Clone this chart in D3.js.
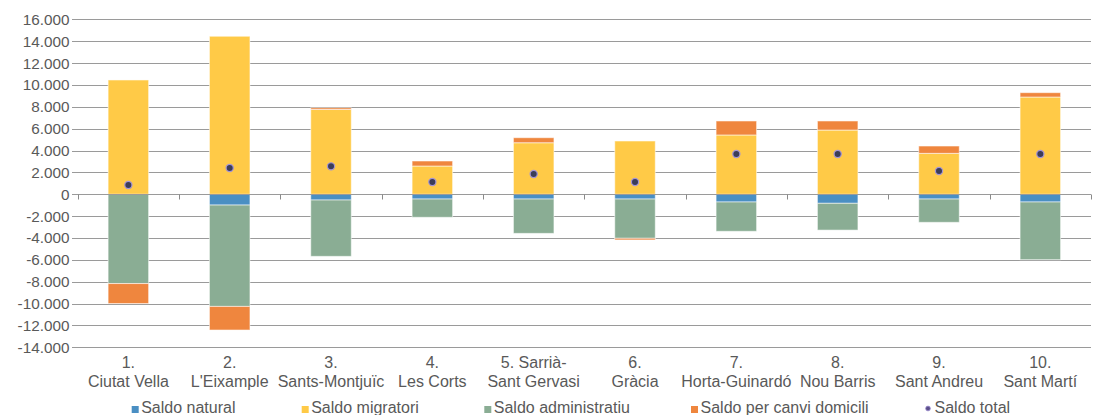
<!DOCTYPE html>
<html><head><meta charset="utf-8">
<script src="https://cdn.jsdelivr.net/npm/d3@7"></script>
<style>html,body{margin:0;padding:0;background:#fff;}svg{display:block;font-family:"Liberation Sans",Arial,sans-serif;}</style>
</head><body>
<svg id="c" width="1106" height="415"></svg>
<script>
const categories = [["1.","Ciutat Vella"],["2.","L'Eixample"],["3.","Sants-Montjuïc"],["4.","Les Corts"],["5. Sarrià-","Sant Gervasi"],["6.","Gràcia"],["7.","Horta-Guinardó"],["8.","Nou Barris"],["9.","Sant Andreu"],["10.","Sant Martí"]];
const saldoNatural = [-20, -990, -530, -440, -440, -440, -710, -830, -440, -710];
const saldoMigratori = [10450, 14450, 7750, 2580, 4710, 4870, 5420, 5870, 3740, 8890];
const saldoAdministratiu = [-8150, -9270, -5150, -1670, -3140, -3590, -2680, -2450, -2130, -5280];
const saldoCanvi = [-1830, -2160, 150, 460, 460, -150, 1280, 830, 670, 400];
const saldoTotal = [840, 2400, 2550, 1120, 1850, 1120, 3680, 3680, 2120, 3680];
const seriesNames = ["Saldo natural","Saldo migratori","Saldo administratiu","Saldo per canvi domicili","Saldo total"];
const yTicks = [-14000,-12000,-10000,-8000,-6000,-4000,-2000,0,2000,4000,6000,8000,10000,12000,14000,16000];

const colors = ["#4a8fc3","#ffca47","#8aad94","#ef863e"];
const keys = ["natural","migratori","administratiu","canvi"];
const rows = categories.map((c,i)=>({idx:i, natural:saldoNatural[i], migratori:saldoMigratori[i], administratiu:saldoAdministratiu[i], canvi:saldoCanvi[i]}));

const svg = d3.select("#c");
const x = d3.scaleBand().domain(d3.range(categories.length)).range([77.7,1091]).paddingInner(0.6).paddingOuter(0.3);
const y = d3.scaleLinear().domain([-14000,16000]).range([347.3,19.3]);
const loc = d3.formatLocale({decimal:",",thousands:".",grouping:[3],currency:["",""],minus:"-"});
const fmt = loc.format(",.0f");
const textCol = "#595959";

// gridlines
svg.append("g").selectAll("line").data(yTicks.filter(t=>t!==0)).join("line")
  .attr("x1",72).attr("x2",1091).attr("y1",d=>Math.round(y(d))+0.5).attr("y2",d=>Math.round(y(d))+0.5)
  .attr("stroke","#9a9a9a").attr("stroke-width",1.2);

// y labels
svg.append("g").selectAll("text").data(yTicks).join("text")
  .attr("x",69.5).attr("y",d=>y(d)+5.5).attr("text-anchor","end")
  .attr("font-size","15.3px").attr("fill",textCol).text(d=>fmt(d));

// stacked bars
const stack = d3.stack().keys(keys).offset(d3.stackOffsetDiverging);
const stacked = stack(rows);
svg.append("g").selectAll("g").data(stacked).join("g")
  .attr("fill",(d,i)=>colors[i])
  .selectAll("rect").data(d=>d).join("rect")
  .attr("x",d=>x(d.data.idx)).attr("width",x.bandwidth())
  .attr("y",d=>y(Math.max(d[0],d[1]))).attr("height",d=>Math.abs(y(d[0])-y(d[1])))
  .attr("stroke","rgba(255,255,255,0.55)").attr("stroke-width",1);

// zero axis
const y0 = Math.round(y(0))+0.5;
svg.append("line").attr("x1",72).attr("x2",1091).attr("y1",y0).attr("y2",y0).attr("stroke","#9a9a9a").attr("stroke-width",1.2);
const bounds = d3.range(categories.length+1).map(i=> i<categories.length ? x(i)-x.step()*0.3 : x(categories.length-1)+x.bandwidth()+x.step()*0.3);
svg.append("g").selectAll("line").data(bounds).join("line")
  .attr("x1",d=>Math.round(d)+0.5).attr("x2",d=>Math.round(d)+0.5).attr("y1",y0).attr("y2",y0+5)
  .attr("stroke","#8a8a8a").attr("stroke-width",1);

// totals
svg.append("g").selectAll("circle").data(saldoTotal).join("circle")
  .attr("cx",(d,i)=>x(i)+x.bandwidth()/2).attr("cy",d=>y(d)).attr("r",3.6)
  .attr("fill","#3c3d58").attr("stroke","#a595d6").attr("stroke-width",1.2);

// category labels
const cl = svg.append("g").selectAll("text").data(categories).join("text")
  .attr("text-anchor","middle").attr("font-size","16px").attr("fill",textCol);
cl.each(function(d,i){
  const t = d3.select(this);
  d.forEach((line,j)=>{
    t.append("tspan").attr("x",x(i)+x.bandwidth()/2).attr("y",367.7+j*19).text(line);
  });
});

// legend
const legX = [131.7,301.7,484.3,691,928];
const lg = svg.append("g");
seriesNames.forEach((name,i)=>{
  if(i<4){
    lg.append("rect").attr("x",legX[i]).attr("y",406).attr("width",7).attr("height",7).attr("fill",colors[i]);
  } else {
    lg.append("circle").attr("cx",legX[i]).attr("cy",408.5).attr("r",2.4).attr("fill","#5b4f8a").attr("stroke","#a595d6").attr("stroke-width",0.8);
  }
  lg.append("text").attr("x", i<4 ? legX[i]+9.5 : legX[i]+6.5).attr("y",413).attr("font-size","16px").attr("fill",textCol).text(name);
});
</script>
</body></html>
